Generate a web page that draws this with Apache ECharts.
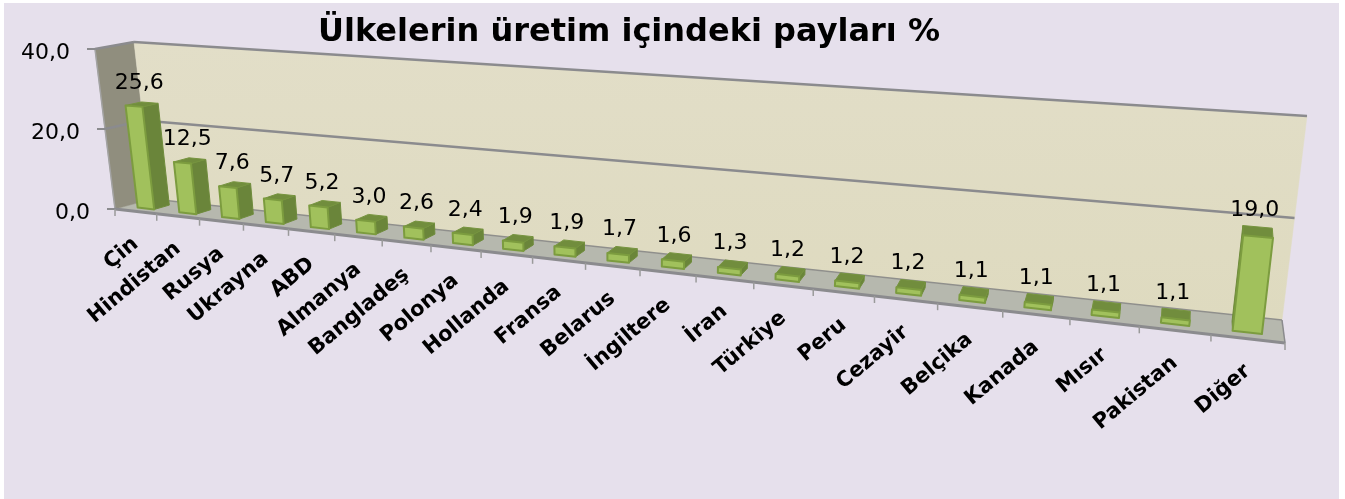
<!DOCTYPE html>
<html>
<head>
<meta charset="utf-8">
<title>Ülkelerin üretim içindeki payları</title>
<style>
  html, body { margin: 0; padding: 0; background: #fff; }
  #chart { width: 1345px; height: 499px; }
</style>
<script src="https://cdn.jsdelivr.net/npm/echarts@6/dist/echarts.min.js"></script>
</head>
<body>
<div id="chart"></div>
<script>
const chartTitle = 'Ülkelerin üretim içindeki payları %'
const categories = ['Çin', 'Hindistan', 'Rusya', 'Ukrayna', 'ABD', 'Almanya', 'Bangladeş', 'Polonya', 'Hollanda', 'Fransa', 'Belarus', 'İngiltere', 'İran', 'Türkiye', 'Peru', 'Cezayir', 'Belçika', 'Kanada', 'Mısır', 'Pakistan', 'Diğer']
const shares = [25.6, 12.5, 7.6, 5.7, 5.2, 3.0, 2.6, 2.4, 1.9, 1.9, 1.7, 1.6, 1.3, 1.2, 1.2, 1.2, 1.1, 1.1, 1.1, 1.1, 19.0]
const valueTicks = [0, 20, 40]

// corners of the 3d box on screen, the hidden grid gets warped onto this
const frontFloor = [[115, 209], [1285, 343]]
const frontTop = [[95, 49], [1309, 140]]
const backFloor = [[152, 199], [1282, 320]]
const backTop = [[134, 42], [1307, 116]]
const perspective = -0.26
const barFront = 0.28
const barBack = 0.7
const barHalf = 0.2
const gridColor = '#8b8b8e'

const fmt = v => v.toFixed(1).replace('.', ',')
const lerp = (a, b, k) => [a[0] + (b[0] - a[0]) * k, a[1] + (b[1] - a[1]) * k]

function project(t, v, d) {
  const u = (1 + perspective) * t / (1 + perspective * t)
  const front = lerp(lerp(frontFloor[0], frontFloor[1], u), lerp(frontTop[0], frontTop[1], u), v)
  const back = lerp(lerp(backFloor[0], backFloor[1], u), lerp(backTop[0], backTop[1], u), v)
  return lerp(front, back, d)
}

// goes through the hidden axes to get t and v
function toBox(params, api, cat, val) {
  const p = api.coord([cat, val])
  const r = params.coordSys
  return [(p[0] - r.x) / r.width, (r.y + r.height - p[1]) / r.height]
}

function poly(points, fill, stroke, lineWidth) {
  return { type: 'polygon', shape: { points: points }, style: { fill: fill, stroke: stroke || fill, lineWidth: lineWidth || 0.5, lineJoin: 'round' } }
}

function line(a, b, color, width) {
  return { type: 'line', shape: { x1: a[0], y1: a[1], x2: b[0], y2: b[1] }, style: { stroke: color, lineWidth: width } }
}

function text(str, x, y, font, align, rotation) {
  return {
    type: 'text', x: x, y: y, rotation: rotation || 0,
    style: { text: str, font: font, fill: '#000', align: align || 'center', verticalAlign: 'middle' }
  }
}

function renderBox() {
  return {
    type: 'group',
    children: [
      poly([frontFloor[0], frontFloor[1], backFloor[1], backFloor[0]], '#b6b8ae'),
      poly([frontTop[0], backTop[0], backFloor[0], frontFloor[0]], '#908e7e'),
      poly([backTop[0], backTop[1], backFloor[1], backFloor[0]], {
        type: 'linear', x: 0, y: 0, x2: 0, y2: 1,
        colorStops: [{ offset: 0, color: '#e2dec8' }, { offset: 1, color: '#dedabf' }]
      }),
      line(frontTop[0], frontFloor[0], '#a3a3a3', 1.5),
      line(backFloor[0], backFloor[1], '#8f8f8c', 1.5),
      line(frontFloor[1], backFloor[1], gridColor, 1.5),
      line(frontFloor[0], frontFloor[1], gridColor, 3)
    ]
  }
}

function renderValueTick(params, api) {
  const val = api.value(0)
  const v = toBox(params, api, 0, val)[1]
  const start = project(0, v, 0)
  const kids = [line([start[0] - 8, start[1]], start, gridColor, 2)]
  if (val > 0) {
    kids.push(line(start, project(0, v, 1), gridColor, 2.5))
    kids.push(line(project(0, v, 1), project(1, v, 1), gridColor, 2.5))
  }
  kids.push(text(fmt(val), start[0] - 25, start[1] + 4, '22px "DejaVu Sans"', 'right'))
  return { type: 'group', children: kids }
}

function renderCategory(params, api) {
  const cat = api.value(0)
  const t = toBox(params, api, cat, 0)[0]
  const half = api.size([1, 0])[0] / params.coordSys.width / 2
  const tick = project(t - half, 0, 0)
  const kids = [line(tick, [tick[0], tick[1] + 7], '#9a9a9a', 1.5)]
  if (cat === categories.length - 1) {
    const last = project(t + half, 0, 0)
    kids.push(line(last, [last[0], last[1] + 7], '#9a9a9a', 1.5))
  }
  const a = project(t, 0, 0)
  kids.push(text(categories[cat], a[0], a[1] + 30, 'bold 21px "DejaVu Sans"', 'right', 40 * Math.PI / 180))
  return { type: 'group', children: kids }
}

function renderBar(params, api) {
  const cat = api.value(0)
  const box = toBox(params, api, cat, api.value(1))
  const half = api.size([1, 0])[0] / params.coordSys.width * barHalf
  const l = box[0] - half, r = box[0] + half, v = box[1]
  const fl = project(l, 0, barFront), fr = project(r, 0, barFront)
  const tl = project(l, v, barFront), tr = project(r, v, barFront)
  const bl = project(l, v, barBack), br = project(r, v, barBack)
  const gl = project(l, 0, barBack), gr = project(r, 0, barBack)
  const kids = []
  if (br[0] > tr[0]) kids.push(poly([tr, br, gr, fr], '#6a853a', '#6f8c3c', 1))
  else kids.push(poly([tl, bl, gl, fl], '#6a853a', '#6f8c3c', 1))
  kids.push(poly([tl, tr, br, bl], '#718d3d', '#76943f', 1))
  kids.push(poly([tl, tr, fr, fl], '#a1c15c', '#7c9c3f', 2))
  return { type: 'group', children: kids }
}

function renderShare(params, api) {
  const box = toBox(params, api, api.value(0), api.value(1))
  const p = project(box[0], box[1], 0.5)
  return text(fmt(api.value(1)), p[0] - 3, p[1] - 21, '22px "DejaVu Sans"')
}

const chart = echarts.init(document.getElementById('chart'), null, { renderer: 'canvas' })
chart.setOption({
  animation: false,
  backgroundColor: '#fff',
  title: {
    text: chartTitle, left: 624, top: 12, textAlign: 'center',
    textStyle: { fontFamily: 'DejaVu Sans', fontWeight: 'bold', fontSize: 32, color: '#000' }
  },
  graphic: [{
    type: 'rect', z: -10, silent: true,
    shape: { x: 4, y: 3, width: 1335, height: 496 },
    style: { fill: '#e6e0ec' }
  }],
  grid: { left: 100, right: 100, top: 100, bottom: 100 },
  xAxis: { type: 'category', data: categories, show: false },
  yAxis: { type: 'value', min: 0, max: 40, interval: 20, show: false },
  series: [
    { type: 'custom', z: 1, silent: true, clip: false, data: [[0]], renderItem: renderBox },
    { type: 'custom', z: 2, silent: true, clip: false, data: valueTicks.map(v => [v]), encode: { y: 0 }, renderItem: renderValueTick },
    { type: 'custom', z: 2, silent: true, clip: false, data: categories.map((c, i) => [i]), encode: { x: 0 }, renderItem: renderCategory },
    { type: 'custom', z: 3, silent: true, clip: false, data: shares.map((v, i) => [i, v]), encode: { x: 0, y: 1 }, renderItem: renderBar },
    { type: 'custom', z: 4, silent: true, clip: false, data: shares.map((v, i) => [i, v]), encode: { x: 0, y: 1 }, renderItem: renderShare }
  ]
})
</script>
</body>
</html>
